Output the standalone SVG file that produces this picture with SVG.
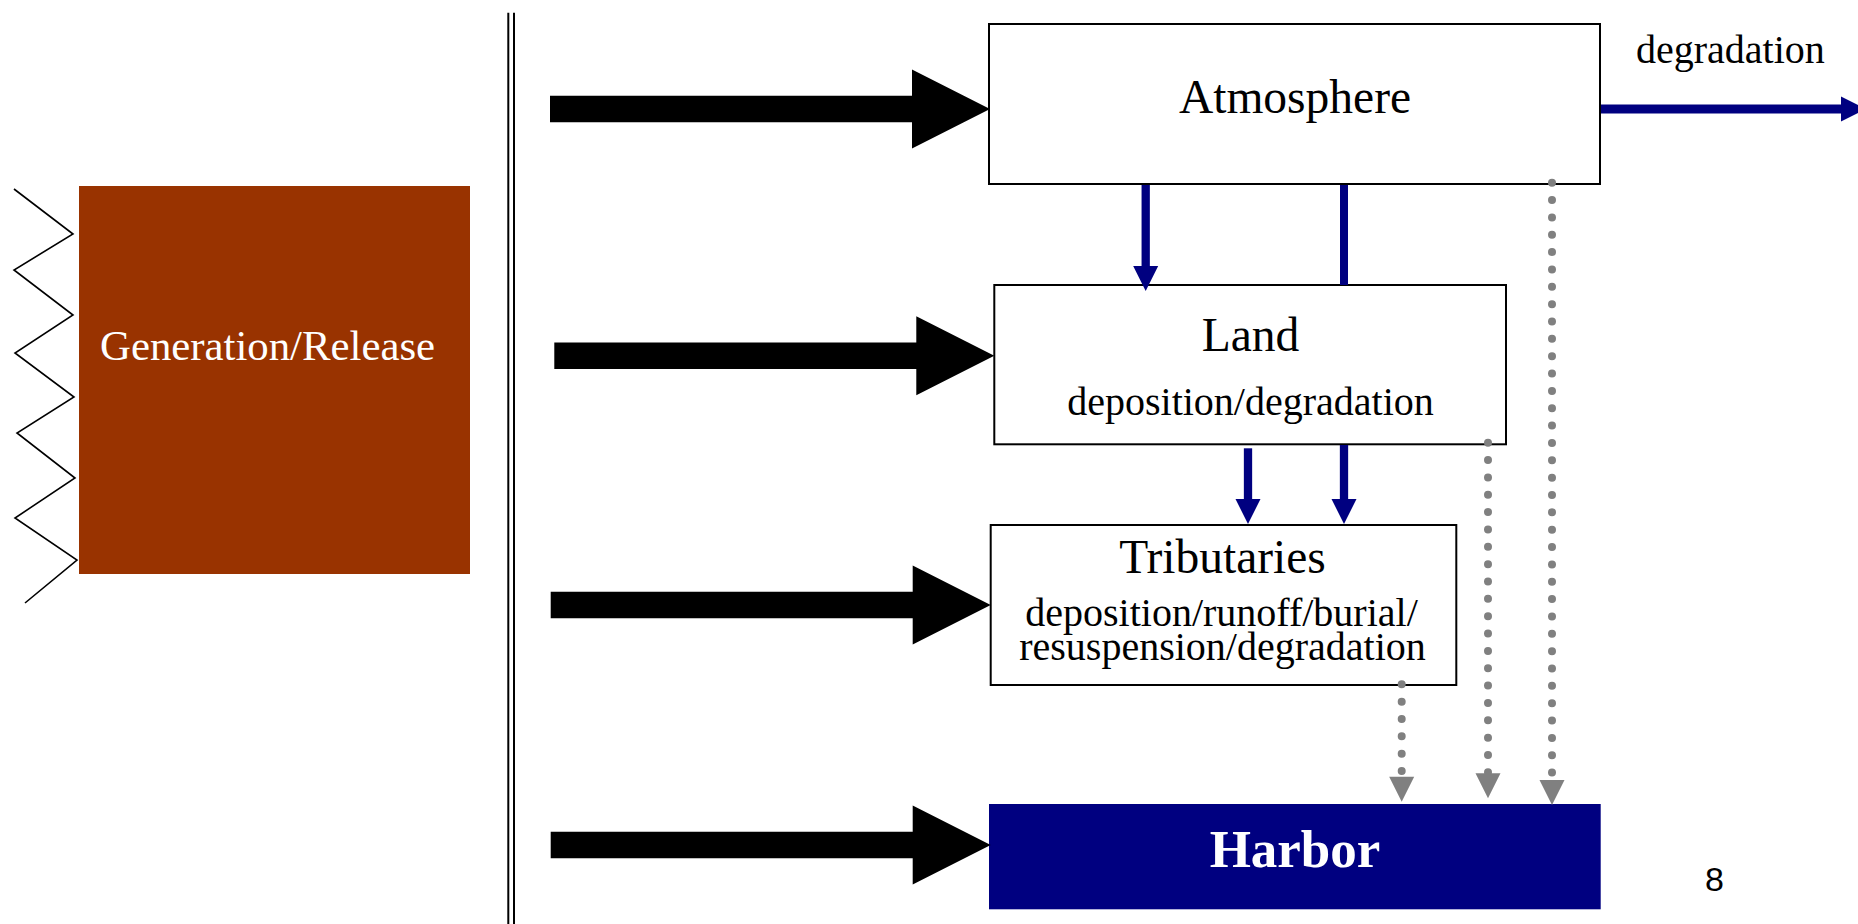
<svg xmlns="http://www.w3.org/2000/svg" width="1858" height="924" viewBox="0 0 1858 924">
<style>
.box{fill:#fff;stroke:#000;stroke-width:2}
.serif{font-family:"Liberation Serif","Times New Roman",serif}
.t47{font-size:47.5px;fill:#000}
.t40{font-size:40px;fill:#000}
.blue{stroke:#000080;fill:none}
.dot{stroke:#808080;stroke-width:8;stroke-linecap:round;stroke-dasharray:0 17.35;fill:none}
.big{fill:#000}
</style>
<defs>
<marker id="hb" markerUnits="userSpaceOnUse" markerWidth="30" markerHeight="30" refX="0" refY="15" orient="auto" viewBox="0 0 30 30" overflow="visible">
<path d="M0,2.5 L25,15 L0,27.5 Z" fill="#000080"/>
</marker>
<marker id="hg" markerUnits="userSpaceOnUse" markerWidth="30" markerHeight="30" refX="0" refY="15" orient="auto" viewBox="0 0 30 30" overflow="visible">
<path d="M0,2.5 L25,15 L0,27.5 Z" fill="#808080"/>
</marker>
<path id="bigArrow" d="M-440,-13.3 L-78,-13.3 L-78,-39.5 L0,0 L-78,39.5 L-78,13.3 L-440,13.3 Z"/>
</defs>
<rect width="1858" height="924" fill="#fff"/>

<g id="generation">
<polyline points="14,189 73,234 14,270 73,315 15,353 74,397 17,433 75,478 15,518 77,560 25,603" fill="none" stroke="#000" stroke-width="1.6"/>
<rect x="79" y="186" width="391" height="388" fill="#993300"/>
<text x="100" y="360" class="serif" font-size="42.8" fill="#fff">Generation/Release</text>
</g>

<g id="divider">
<line x1="508.3" y1="12.7" x2="508.3" y2="924" stroke="#000" stroke-width="2"/>
<line x1="514" y1="12.7" x2="514" y2="924" stroke="#000" stroke-width="2"/>
</g>

<g id="atmosphere">
<rect class="box" x="989" y="24" width="611" height="160"/>
<text x="1295" y="113" class="serif t47" text-anchor="middle">Atmosphere</text>
</g>

<g id="land">
<rect class="box" x="994.3" y="285" width="511.7" height="159.3"/>
<text x="1250.5" y="351" class="serif t47" text-anchor="middle">Land</text>
<text x="1250.5" y="415" class="serif t40" text-anchor="middle">deposition/degradation</text>
</g>

<g id="tributaries">
<rect class="box" x="990.7" y="525" width="465.6" height="160"/>
<text x="1222.5" y="573.3" class="serif t47" text-anchor="middle">Tributaries</text>
<text x="1221.5" y="626" class="serif t40" text-anchor="middle">deposition/runoff/burial/</text>
<text x="1222.5" y="660" class="serif t40" text-anchor="middle">resuspension/degradation</text>
</g>

<g id="harbor">
<rect x="989" y="804" width="611.7" height="105.3" fill="#000080"/>
<text x="1295" y="867" class="serif" font-size="53" font-weight="bold" fill="#fff" text-anchor="middle">Harbor</text>
</g>

<g id="degradation-label">
<text x="1636" y="63.3" class="serif t40">degradation</text>
</g>

<g id="page-number">
<text x="1705" y="891" font-family="'Liberation Sans',Arial,sans-serif" font-size="34" fill="#000">8</text>
</g>

<g id="connectors">
<use href="#bigArrow" x="990" y="109" class="big"/>
<use href="#bigArrow" x="994.3" y="355.8" class="big"/>
<use href="#bigArrow" x="990.7" y="605" class="big"/>
<use href="#bigArrow" x="990.7" y="845" class="big"/>

<line class="blue" x1="1601" y1="109" x2="1841" y2="109" stroke-width="9" marker-end="url(#hb)"/>
<line class="blue" x1="1145.7" y1="185" x2="1145.7" y2="266" stroke-width="8.3" marker-end="url(#hb)"/>
<line class="blue" x1="1344" y1="185" x2="1344" y2="285" stroke-width="8"/>
<line class="blue" x1="1248" y1="448.3" x2="1248" y2="499" stroke-width="8.3" marker-end="url(#hb)"/>
<line class="blue" x1="1344" y1="445" x2="1344" y2="499" stroke-width="8.3" marker-end="url(#hb)"/>

<line class="dot" x1="1401.7" y1="684.3" x2="1401.7" y2="776.7" marker-end="url(#hg)"/>
<line class="dot" x1="1488" y1="442.7" x2="1488" y2="773.3" marker-end="url(#hg)"/>
<line class="dot" x1="1552" y1="182.7" x2="1552" y2="780" marker-end="url(#hg)"/>
</g>
</svg>
